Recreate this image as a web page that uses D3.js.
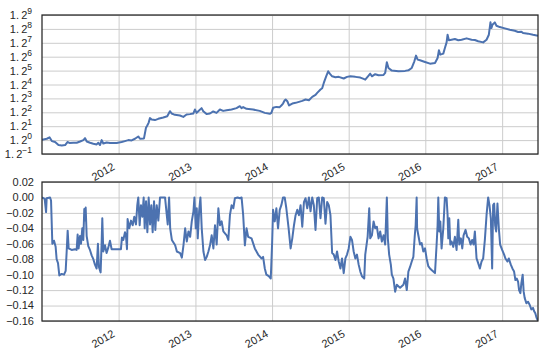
<!DOCTYPE html>
<html>
<head>
<meta charset="utf-8">
<script src="https://cdn.jsdelivr.net/npm/d3@7"></script>
<style>
  body { margin: 0; background: #fff; }
  svg text { font-family: "Liberation Sans", Arial, sans-serif; fill: #262626; }
</style>
</head>
<body>
<svg id="chart" width="554" height="362"></svg>
<script>
// cumulative value (top, log base 1.2), time as decimal years
const eqYears = [
  2011.0, 2011.063, 2011.098, 2011.128, 2011.171, 2011.215, 2011.258, 2011.302, 2011.332, 2011.358,
  2011.41, 2011.453, 2011.497, 2011.54, 2011.562, 2011.584, 2011.627, 2011.67, 2011.714, 2011.735,
  2011.757, 2011.779, 2011.8, 2011.844, 2011.887, 2011.974, 2012.039, 2012.082, 2012.126, 2012.169,
  2012.213, 2012.256, 2012.278, 2012.33, 2012.356, 2012.373, 2012.39, 2012.408, 2012.43, 2012.473,
  2012.516, 2012.581, 2012.633, 2012.668, 2012.69, 2012.733, 2012.798, 2012.842, 2012.885, 2012.928,
  2012.972, 2012.993, 2013.015, 2013.037, 2013.08, 2013.102, 2013.145, 2013.189, 2013.232, 2013.275,
  2013.319, 2013.362, 2013.406, 2013.471, 2013.536, 2013.579, 2013.601, 2013.623, 2013.666, 2013.753,
  2013.839, 2013.905, 2013.97, 2013.991, 2014.013, 2014.056, 2014.1, 2014.121, 2014.143, 2014.165,
  2014.177, 2014.199, 2014.221, 2014.264, 2014.307, 2014.351, 2014.394, 2014.437, 2014.481, 2014.524,
  2014.567, 2014.589, 2014.632, 2014.654, 2014.675, 2014.706, 2014.732, 2014.753, 2014.784, 2014.827,
  2014.87, 2014.935, 2014.978, 2015.022, 2015.087, 2015.152, 2015.195, 2015.216, 2015.26, 2015.281,
  2015.303, 2015.346, 2015.39, 2015.455, 2015.476, 2015.498, 2015.519, 2015.563, 2015.649, 2015.736,
  2015.779, 2015.823, 2015.857, 2015.879, 2015.9, 2015.931, 2015.996, 2016.061, 2016.126, 2016.16,
  2016.177, 2016.195, 2016.234, 2016.255, 2016.277, 2016.29, 2016.307, 2016.342, 2016.385, 2016.429,
  2016.472, 2016.537, 2016.602, 2016.645, 2016.688, 2016.753, 2016.797, 2016.827, 2016.848, 2016.861,
  2016.874, 2016.905, 2016.926, 2016.97, 2017.035, 2017.1, 2017.165, 2017.208, 2017.251, 2017.273,
  2017.338, 2017.403, 2017.468
];
const eqValues = [
  1.005, 1.018, 1.037, 0.987, 0.975, 0.937, 0.933, 0.937, 0.975, 0.964,
  0.966, 0.966, 0.982, 1.0, 1.026, 0.982, 0.966, 0.954, 0.945, 0.966,
  0.937, 1.0, 0.957, 0.969, 0.964, 0.964, 0.975, 0.987, 1.0, 0.996,
  1.018, 1.049, 1.018, 1.022, 1.176, 1.211, 1.254, 1.334, 1.310, 1.300,
  1.322, 1.346, 1.368, 1.461, 1.417, 1.393, 1.381, 1.356, 1.399, 1.406,
  1.417, 1.493, 1.429, 1.461, 1.521, 1.461, 1.406, 1.417, 1.456, 1.429,
  1.493, 1.467, 1.480, 1.493, 1.521, 1.560, 1.521, 1.541, 1.507, 1.493,
  1.467, 1.429, 1.411, 1.429, 1.527, 1.546, 1.541, 1.575, 1.615, 1.688,
  1.703, 1.666, 1.575, 1.615, 1.630, 1.651, 1.672, 1.703, 1.688, 1.763,
  1.809, 1.859, 1.942, 1.974, 2.116, 2.309, 2.466, 2.390, 2.309, 2.280,
  2.292, 2.243, 2.292, 2.309, 2.292, 2.271, 2.231, 2.210, 2.330, 2.390,
  2.309, 2.373, 2.343, 2.352, 2.412, 2.776, 2.576, 2.488, 2.466, 2.479,
  2.497, 2.576, 2.812, 3.030, 2.874, 2.848, 2.786, 2.726, 2.751, 2.937,
  3.247, 3.069, 3.108, 3.349, 3.603, 3.983, 3.703, 3.730, 3.764, 3.703,
  3.730, 3.799, 3.730, 3.716, 3.656, 3.603, 3.730, 3.983, 4.685, 4.347,
  4.542, 4.685, 4.484, 4.403, 4.331, 4.253, 4.199, 4.131, 4.146, 4.071,
  4.041, 3.983, 3.933
];

// drawdown (bottom)
const ddYears = [
  2011.0, 2011.035, 2011.053, 2011.061, 2011.105, 2011.118, 2011.135, 2011.157, 2011.178, 2011.191,
  2011.209, 2011.226, 2011.257, 2011.287, 2011.309, 2011.322, 2011.335, 2011.348, 2011.387, 2011.43,
  2011.452, 2011.465, 2011.478, 2011.496, 2011.509, 2011.526, 2011.539, 2011.552, 2011.561, 2011.57,
  2011.583, 2011.604, 2011.626, 2011.648, 2011.67, 2011.691, 2011.713, 2011.73, 2011.743, 2011.765,
  2011.778, 2011.787, 2011.8, 2011.822, 2011.843, 2011.865, 2011.887, 2011.909, 2011.974, 2012.03,
  2012.043, 2012.061, 2012.083, 2012.096, 2012.109, 2012.117, 2012.139, 2012.161, 2012.183, 2012.204,
  2012.226, 2012.243, 2012.256, 2012.274, 2012.291, 2012.309, 2012.326, 2012.339, 2012.357, 2012.374,
  2012.391, 2012.409, 2012.426, 2012.443, 2012.461, 2012.478, 2012.496, 2012.517, 2012.539, 2012.604,
  2012.639, 2012.657, 2012.671, 2012.693, 2012.736, 2012.758, 2012.801, 2012.823, 2012.844, 2012.866,
  2012.887, 2012.909, 2012.931, 2012.952, 2012.974, 2012.987, 2013.004, 2013.017, 2013.03, 2013.048,
  2013.065, 2013.082, 2013.104, 2013.126, 2013.147, 2013.169, 2013.19, 2013.212, 2013.234, 2013.255,
  2013.277, 2013.299, 2013.32, 2013.342, 2013.364, 2013.407, 2013.429, 2013.45, 2013.472, 2013.494,
  2013.515, 2013.55, 2013.58, 2013.602, 2013.623, 2013.645, 2013.667, 2013.688, 2013.732, 2013.775,
  2013.818, 2013.861, 2013.883, 2013.905, 2013.926, 2013.957, 2013.983, 2014.0, 2014.013, 2014.035,
  2014.056, 2014.078, 2014.1, 2014.121, 2014.143, 2014.165, 2014.186, 2014.216, 2014.242, 2014.264,
  2014.286, 2014.307, 2014.329, 2014.351, 2014.372, 2014.394, 2014.416, 2014.437, 2014.459, 2014.481,
  2014.502, 2014.524, 2014.545, 2014.567, 2014.589, 2014.61, 2014.632, 2014.654, 2014.675, 2014.697,
  2014.719, 2014.74, 2014.762, 2014.784, 2014.805, 2014.827, 2014.848, 2014.87, 2014.892, 2014.913,
  2014.935, 2014.957, 2014.978, 2015.0, 2015.022, 2015.043, 2015.065, 2015.087, 2015.108, 2015.13,
  2015.152, 2015.173, 2015.203, 2015.216, 2015.247, 2015.268, 2015.281, 2015.303, 2015.325, 2015.346,
  2015.368, 2015.39, 2015.411, 2015.433, 2015.455, 2015.476, 2015.498, 2015.511, 2015.528, 2015.55,
  2015.563, 2015.584, 2015.606, 2015.628, 2015.649, 2015.671, 2015.714, 2015.736, 2015.758, 2015.779,
  2015.801, 2015.823, 2015.844, 2015.862, 2015.874, 2015.887, 2015.893, 2015.909, 2015.931, 2015.952,
  2015.974, 2015.996, 2016.017, 2016.039, 2016.061, 2016.082, 2016.104, 2016.126, 2016.147, 2016.16,
  2016.169, 2016.182, 2016.195, 2016.212, 2016.234, 2016.255, 2016.277, 2016.29, 2016.299, 2016.312,
  2016.325, 2016.342, 2016.364, 2016.385, 2016.407, 2016.429, 2016.442, 2016.463, 2016.481, 2016.498,
  2016.524, 2016.545, 2016.567, 2016.589, 2016.61, 2016.628, 2016.645, 2016.667, 2016.688, 2016.71,
  2016.732, 2016.753, 2016.775, 2016.797, 2016.818, 2016.835, 2016.853, 2016.87, 2016.883, 2016.896,
  2016.909, 2016.922, 2016.939, 2016.957, 2016.974, 2017.0, 2017.026, 2017.043, 2017.069, 2017.087,
  2017.113, 2017.134, 2017.156, 2017.173, 2017.19, 2017.208, 2017.221, 2017.238, 2017.251, 2017.268,
  2017.281, 2017.294, 2017.316, 2017.338, 2017.359, 2017.381, 2017.403, 2017.416, 2017.433, 2017.45,
  2017.468
];
const ddValues = [
  0, -0.002, -0.019, -0.001, 0, -0.004, -0.06, -0.056, -0.064, -0.08,
  -0.085, -0.101, -0.099, -0.1, -0.095, -0.07, -0.043, -0.066, -0.068, -0.067,
  -0.068, -0.048, -0.066, -0.05, -0.06, -0.04, -0.055, -0.015, -0.03, -0.013,
  -0.05, -0.063, -0.068, -0.075, -0.08, -0.087, -0.092, -0.06, -0.09, -0.097,
  -0.06, -0.027, -0.07, -0.062, -0.072, -0.065, -0.056, -0.067, -0.067, -0.067,
  -0.052, -0.055, -0.045, -0.05, -0.067, -0.028, -0.04, -0.03, -0.036, -0.025,
  -0.035, -0.01, 0, -0.036, -0.01, -0.025, 0, -0.04, -0.005, -0.045,
  0, -0.035, -0.01, -0.045, -0.005, -0.042, -0.01, -0.03, 0, 0,
  -0.035, 0, -0.04, -0.055, -0.062, -0.07, -0.072, -0.078, -0.062, -0.04,
  -0.057, -0.044, -0.051, -0.031, -0.018, 0, -0.04, -0.014, -0.053, -0.018,
  0, -0.04, -0.07, -0.081, -0.077, -0.07, -0.062, -0.049, -0.066, -0.036,
  -0.061, -0.014, -0.036, -0.031, -0.044, -0.049, -0.055, -0.023, -0.01, -0.014,
  -0.001, 0, -0.001, 0, -0.023, -0.062, -0.04, -0.051, -0.053, -0.066,
  -0.074, -0.079, -0.077, -0.092, -0.1, -0.102, -0.105, -0.061, -0.016, -0.031,
  -0.014, -0.04, -0.016, -0.01, 0, 0, -0.014, -0.04, -0.066, -0.053,
  -0.036, -0.023, -0.016, -0.023, -0.01, -0.038, -0.006, -0.001, -0.014, 0,
  -0.018, 0, -0.01, -0.042, -0.001, 0, -0.027, 0, -0.001, -0.034,
  -0.006, -0.01, -0.023, -0.072, -0.074, -0.081, -0.07, -0.083, -0.092, -0.079,
  -0.098, -0.079, -0.074, -0.066, -0.051, -0.055, -0.07, -0.079, -0.074, -0.087,
  -0.096, -0.102, -0.105, -0.074, -0.051, -0.014, -0.053, -0.049, -0.031, -0.04,
  -0.038, -0.053, -0.044, -0.057, -0.049, -0.061, 0, -0.053, -0.074, -0.087,
  -0.1, -0.105, -0.122, -0.113, -0.115, -0.117, -0.113, -0.105, -0.12, -0.096,
  -0.09, -0.083, -0.077, -0.05, -0.036, 0, -0.04, -0.049, -0.061, -0.059,
  -0.07, -0.066, -0.079, -0.089, -0.092, -0.094, -0.096, -0.098, -0.061, -0.036,
  0, -0.044, -0.031, -0.066, -0.04, 0, -0.001, -0.023, -0.053, -0.027,
  -0.061, -0.057, -0.064, -0.051, -0.068, -0.029, -0.061, -0.053, -0.066, -0.049,
  -0.042, -0.051, -0.053, -0.061, -0.055, -0.061, -0.044, -0.079, -0.085, -0.092,
  -0.083, -0.079, -0.055, -0.023, 0, -0.01, -0.027, -0.092, -0.01, -0.008,
  -0.036, -0.044, -0.008, -0.04, -0.061, -0.068, -0.074, -0.079, -0.083, -0.079,
  -0.087, -0.092, -0.096, -0.107, -0.105, -0.109, -0.12, -0.124, -0.111, -0.1,
  -0.122, -0.13, -0.137, -0.135, -0.139, -0.145, -0.143, -0.147, -0.15, -0.156,
  -0.16
];

const yearTicks = [2012, 2013, 2014, 2015, 2016, 2017];
const eqExponents = [-1, 0, 1, 2, 3, 4, 5, 6, 7, 8, 9];
const ddTicks = [0.02, 0, -0.02, -0.04, -0.06, -0.08, -0.1, -0.12, -0.14, -0.16];

// decimal year -> Date
function toDate(t) {
  const y = Math.floor(t);
  const a = Date.UTC(y, 0, 1), b = Date.UTC(y + 1, 0, 1);
  return new Date(a + (t - y) * (b - a));
}

const eqData = eqYears.map((t, i) => ({ date: toDate(t), value: eqValues[i] }));
const ddData = ddYears.map((t, i) => ({ date: toDate(t), value: ddValues[i] }));

const left = 42, right = 538;
const svg = d3.select('#chart');

let x = d3.scaleUtc()
  .domain([toDate(eqYears[0]), toDate(eqYears[eqYears.length - 1])])
  .range([left, right]);

function drawPanel(top, bottom, y, tickValues, labelFn, data, id) {
  let g = svg.append('g');
  // grid
  g.append('g')
    .attr('transform', `translate(0,${bottom})`)
    .call(d3.axisBottom(x).tickValues(yearTicks.map(toDate)).tickSize(-(bottom - top)).tickFormat(''))
    .call(a => a.select('.domain').remove())
    .call(a => a.selectAll('line').attr('stroke', '#cccccc').attr('stroke-width', 1));
  g.append('g')
    .attr('transform', `translate(${left},0)`)
    .call(d3.axisLeft(y).tickValues(tickValues).tickSize(-(right - left)).tickFormat(''))
    .call(a => a.select('.domain').remove())
    .call(a => a.selectAll('line').attr('stroke', '#cccccc').attr('stroke-width', 1));

  // line
  svg.append('clipPath').attr('id', id)
    .append('rect').attr('x', left).attr('y', top).attr('width', right - left).attr('height', bottom - top);
  g.append('path')
    .datum(data)
    .attr('clip-path', `url(#${id})`)
    .attr('fill', 'none')
    .attr('stroke', '#4c72b0')
    .attr('stroke-width', 2)
    .attr('stroke-linejoin', 'round')
    .attr('d', d3.line().x(d => x(d.date)).y(d => y(d.value)));

  // frame
  g.append('rect')
    .attr('x', left).attr('y', top)
    .attr('width', right - left).attr('height', bottom - top)
    .attr('fill', 'none').attr('stroke', '#262626').attr('stroke-width', 1.25);

  // y labels
  tickValues.forEach((v, i) => labelFn(g, y(v), i));

  // x labels, rotated
  yearTicks.forEach(yr => {
    g.append('text')
      .attr('transform', `translate(${x(toDate(yr)) - 3},${bottom + 15}) rotate(-30)`)
      .attr('text-anchor', 'end')
      .attr('font-size', 11)
      .text(yr);
  });
}

// top: log base 1.2
let yEq = d3.scaleLog().base(1.2).domain([Math.pow(1.2, -1), Math.pow(1.2, 9)]).range([154, 15]);
drawPanel(15, 154, yEq, eqExponents.map(e => Math.pow(1.2, e)), (g, py, i) => {
  let t = g.append('text')
    .attr('x', 32).attr('y', py + 4)
    .attr('text-anchor', 'end')
    .attr('font-size', 11);
  t.append('tspan').text('1.\u20092');
  t.append('tspan')
    .attr('dy', -5)
    .attr('font-size', 8.5)
    .text(String(eqExponents[i]).replace('-', '\u2212'));
}, eqData, 'clipTop');

// bottom: drawdown
let yDd = d3.scaleLinear().domain([-0.16, 0.02]).range([321, 182]);
drawPanel(182, 321, yDd, ddTicks, (g, py, i) => {
  g.append('text')
    .attr('x', 34).attr('y', py)
    .attr('dy', '0.35em')
    .attr('text-anchor', 'end')
    .attr('font-size', 11)
    .text(d3.format('.2f')(ddTicks[i]));
}, ddData, 'clipBottom');
</script>
</body>
</html>
